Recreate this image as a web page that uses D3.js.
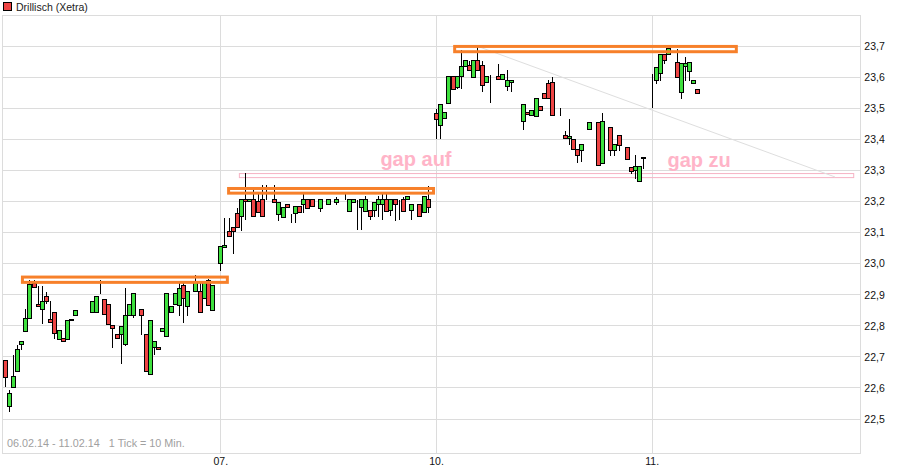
<!DOCTYPE html>
<html><head><meta charset="utf-8">
<script src="https://cdn.jsdelivr.net/npm/d3@7"></script>
<style>
html,body{margin:0;padding:0;background:#fff;}
svg{display:block;font-family:"Liberation Sans",Arial,sans-serif;}
</style></head>
<body>
<svg id="c" width="912" height="468"></svg>
<script>
// ---- data: [open, high, low, close] per 10-minute tick, null = no trade ----
const day1 = [
[22.685,22.685,22.601,22.633],[22.538,22.591,22.521,22.582],[22.601,22.703,22.601,22.634],[22.652,22.736,22.652,22.722],
[22.739,22.748,22.720,22.748],[22.779,22.852,22.779,22.823],[22.823,22.944,22.823,22.931],[22.934,22.944,22.921,22.921],
[22.868,22.926,22.859,22.859],[22.852,22.926,22.804,22.876],[22.893,22.906,22.868,22.875],[22.817,22.878,22.809,22.809],
[22.841,22.841,22.757,22.773],[22.754,22.782,22.754,22.782],[22.757,22.757,22.748,22.748],[22.754,22.814,22.754,22.814],
[22.814,22.817,22.814,22.817],[22.830,22.849,22.830,22.849],[22.814,22.814,22.814,22.814],[22.849,22.849,22.849,22.849],
[22.849,22.849,22.849,22.849],[22.842,22.876,22.842,22.876],[22.842,22.893,22.842,22.893],[22.902,22.944,22.902,22.902],
[22.883,22.883,22.833,22.833],[22.868,22.868,22.804,22.804],[22.798,22.798,22.727,22.789],[22.770,22.770,22.757,22.757],
[22.770,22.797,22.674,22.797],[22.738,22.921,22.734,22.830],[22.830,22.868,22.830,22.868],[22.830,22.902,22.822,22.902],
[22.887,22.887,22.887,22.887],[22.852,22.852,22.770,22.830],[22.770,22.770,22.652,22.652],[22.643,22.814,22.643,22.814],
[22.728,22.747,22.703,22.747],[22.728,22.728,22.722,22.722],[22.779,22.789,22.779,22.789],[22.763,22.902,22.763,22.902],
[22.840,22.859,22.840,22.859],[22.868,22.902,22.868,22.902],[22.865,22.938,22.830,22.919],[22.927,22.938,22.808,22.887],
[22.859,22.908,22.830,22.908],[22.908,22.908,22.908,22.908],[22.910,22.963,22.910,22.938],[22.910,22.938,22.840,22.842],
[22.887,22.938,22.887,22.938],[22.944,22.950,22.865,22.865],[22.849,22.927,22.849,22.927],[22.912,22.912,22.912,22.912]
];
const day2 = [
[22.998,23.052,22.974,23.052],[23.051,23.144,23.051,23.057],[23.103,23.144,23.086,23.086],[23.115,23.115,23.030,23.103],
[23.159,23.178,23.115,23.115],[23.151,23.203,23.104,23.203],[23.203,23.289,23.138,23.197],[23.197,23.203,23.197,23.203],
[23.203,23.246,23.151,23.151],[23.197,23.224,23.162,23.162],[23.203,23.251,23.151,23.151],[23.203,23.251,23.203,23.203],
null,[23.203,23.251,23.196,23.196],[23.157,23.196,23.136,23.196],[23.146,23.178,23.146,23.178],
[23.187,23.187,23.180,23.180],[23.157,23.157,23.129,23.157],[23.160,23.181,23.129,23.181],[23.181,23.181,23.162,23.162],
[23.187,23.230,23.160,23.203],[23.203,23.203,23.177,23.177],[23.203,23.203,23.181,23.181],[23.203,23.203,23.203,23.203],
[23.177,23.203,23.164,23.203],[23.203,23.203,23.203,23.203],[23.187,23.203,23.187,23.203],[23.203,23.203,23.203,23.203],
[23.196,23.213,23.187,23.203],[23.190,23.190,23.190,23.190],[23.203,23.224,23.203,23.203],[23.165,23.203,23.165,23.203],
[23.196,23.203,23.196,23.203],[23.203,23.203,23.106,23.203],[23.179,23.203,23.106,23.203],[23.165,23.216,23.165,23.203],
[23.170,23.170,23.138,23.151],[23.168,23.196,23.149,23.196],[23.190,23.216,23.149,23.203],[23.190,23.230,23.140,23.203],
[23.203,23.230,23.165,23.165],[23.168,23.203,23.150,23.203],[23.203,23.203,23.136,23.187],[23.179,23.203,23.140,23.179],
[23.203,23.213,23.165,23.165],[23.203,23.214,23.203,23.214],[23.168,23.187,23.140,23.187],[23.190,23.190,23.190,23.190],
[23.187,23.187,23.151,23.151],[23.164,23.214,23.164,23.214],[23.206,23.248,23.160,23.178],[23.190,23.190,23.190,23.190]
];
const day3 = [
[23.481,23.495,23.400,23.462],[23.443,23.511,23.400,23.511],[23.466,23.486,23.466,23.486],[23.515,23.599,23.515,23.599],
[23.599,23.599,23.560,23.560],[23.566,23.599,23.560,23.599],[23.599,23.686,23.560,23.634],[23.634,23.651,23.634,23.651],
[23.637,23.651,23.620,23.620],[23.596,23.651,23.596,23.651],[23.651,23.700,23.620,23.620],[23.637,23.651,23.550,23.571],
[23.580,23.599,23.580,23.599],[23.604,23.604,23.514,23.604],[23.604,23.604,23.604,23.604],[23.599,23.642,23.590,23.590],
[23.590,23.607,23.590,23.607],[23.568,23.620,23.555,23.588],[23.580,23.586,23.550,23.586],null,
null,[23.457,23.511,23.429,23.511],[23.486,23.486,23.479,23.479],[23.476,23.492,23.476,23.492],
[23.473,23.531,23.473,23.531],[23.503,23.503,23.492,23.492],[23.547,23.547,23.530,23.530],[23.579,23.588,23.530,23.530],
[23.580,23.600,23.476,23.476],[23.500,23.500,23.500,23.500],[23.473,23.500,23.473,23.473],[23.410,23.424,23.400,23.400],
[23.400,23.462,23.380,23.407],[23.397,23.397,23.364,23.364],[23.364,23.364,23.321,23.346],[23.361,23.381,23.326,23.381],
[23.399,23.399,23.399,23.399],[23.430,23.453,23.430,23.453],[23.453,23.453,23.453,23.453],[23.453,23.453,23.315,23.315],
[23.321,23.484,23.321,23.457],[23.465,23.465,23.465,23.465],[23.435,23.435,23.346,23.361],[23.361,23.381,23.346,23.381],
[23.410,23.410,23.361,23.377],null,[23.372,23.372,23.332,23.332],[23.307,23.307,23.288,23.296],
[23.299,23.348,23.272,23.312],[23.261,23.312,23.261,23.312],[23.341,23.341,23.304,23.335],[23.301,23.301,23.301,23.301]
];
const day4 = [
[23.500,23.609,23.500,23.500],[23.589,23.630,23.576,23.630],[23.609,23.672,23.585,23.672],[23.672,23.672,23.641,23.652],
[23.672,23.690,23.672,23.690],[23.609,23.609,23.609,23.609],[23.645,23.690,23.598,23.598],[23.549,23.641,23.529,23.641],
[23.633,23.663,23.587,23.641],[23.615,23.645,23.585,23.645],[23.579,23.589,23.579,23.589],[23.559,23.559,23.547,23.547]
];
const ticksPerDay = 52;
const dayLabels = ["07.", "10.", "11."];           // x-axis labels at day starts 1..3
const yTicks = [22.5,22.6,22.7,22.8,22.9,23.0,23.1,23.2,23.3,23.4,23.5,23.6,23.7];
const seriesName = "Drillisch (Xetra)";
const rangeText = "06.02.14 - 11.02.14   1 Tick = 10 Min.";
// annotations: [startTick, endTick, upper, lower]
const resistBoxes = [[4.3, 53.7, 22.955, 22.938], [54.0, 103.4, 23.240, 23.225], [108.5, 176.4, 23.697, 23.680]];
const gapBox = [56.6, 204.7, 23.288, 23.275];
const trendLine = [[113.9, 23.698], [200.2, 23.277]];
const notes = [["gap auf", 90.6, 23.287], ["gap zu", 159.8, 23.284]];

// ---- drawing ----
const svg = d3.select("#c");
const pLeft = 2, pRight = 860.3, pTop = 15, pBottom = 453.3;
const x = d3.scaleLinear().domain([0, 156]).range([4.6, 651.7]);
const y = d3.scaleLinear().domain([22.5, 23.7]).range([418.5, 45.5]);

const candles = [];
[day1, day2, day3, day4].forEach((d, di) => d.forEach((r, k) => {
  if (r) candles.push({i: di * ticksPerDay + k, o: r[0], h: r[1], l: r[2], c: r[3]});
}));

// grid
const g = svg.append("g").attr("shape-rendering", "crispEdges");
g.selectAll("line.h").data(yTicks).join("line")
  .attr("x1", pLeft).attr("x2", pRight)
  .attr("y1", d => Math.round(y(d)) + 0.5).attr("y2", d => Math.round(y(d)) + 0.5)
  .attr("stroke", "#dcdcdc");
g.selectAll("line.v").data(dayLabels).join("line")
  .attr("x1", (d, j) => Math.round(x((j + 1) * ticksPerDay)) + 0.5)
  .attr("x2", (d, j) => Math.round(x((j + 1) * ticksPerDay)) + 0.5)
  .attr("y1", pTop).attr("y2", pBottom).attr("stroke", "#dcdcdc");
g.append("rect").attr("x", pLeft + 0.5).attr("y", pTop + 0.5)
  .attr("width", pRight - pLeft).attr("height", pBottom - pTop)
  .attr("fill", "none").attr("stroke", "#dcdcdc");

// y axis labels
const yAxis = d3.axisRight(y).tickValues(yTicks).tickSize(0).tickPadding(4)
  .tickFormat(d => d.toFixed(1).replace(".", ","));
const ya = svg.append("g").attr("transform", `translate(${pRight},0.5)`).call(yAxis);
ya.select(".domain").remove();
ya.selectAll("text").attr("font-size", "10.5px").attr("fill", "#111")
  .attr("font-family", "'Liberation Sans',Arial,sans-serif");

// x axis labels
const xAxis = d3.axisBottom(x).tickValues(dayLabels.map((d, j) => (j + 1) * ticksPerDay))
  .tickFormat((d, j) => dayLabels[j]).tickSize(0).tickPadding(4);
const xa = svg.append("g").attr("transform", `translate(0,${pBottom})`).call(xAxis);
xa.select(".domain").remove();
xa.selectAll("text").attr("font-size", "10.5px").attr("fill", "#111")
  .attr("font-family", "'Liberation Sans',Arial,sans-serif");

// range text
svg.append("text").attr("x", 7).attr("y", 446.5).attr("font-size", "10.8px")
  .attr("fill", "#a0a0a0").style("white-space", "pre").text(rangeText);

// legend
svg.append("rect").attr("x", 3.5).attr("y", 2.5).attr("width", 8).attr("height", 8)
  .attr("fill", "#ee4444").attr("stroke", "#000").attr("shape-rendering", "crispEdges");
svg.append("text").attr("x", 16).attr("y", 10.5).attr("font-size", "10.5px")
  .attr("fill", "#222").text(seriesName);

// gap box
svg.append("rect").attr("x", x(gapBox[0])).attr("y", y(gapBox[2]))
  .attr("width", x(gapBox[1]) - x(gapBox[0])).attr("height", y(gapBox[3]) - y(gapBox[2]))
  .attr("fill", "none").attr("stroke", "#f6b3c4").attr("stroke-width", 1);

// trend line
svg.append("line")
  .attr("x1", x(trendLine[0][0])).attr("y1", y(trendLine[0][1]))
  .attr("x2", x(trendLine[1][0])).attr("y2", y(trendLine[1][1]))
  .attr("stroke", "#dedede").attr("stroke-width", 1);

// notes
svg.selectAll("text.note").data(notes).join("text").attr("class", "note")
  .attr("x", d => x(d[1])).attr("y", d => y(d[2]) - 8)
  .attr("font-size", "20px").attr("font-weight", "bold").attr("fill", "#ffb4c8")
  .text(d => d[0]);

// candles
const cg = svg.append("g").attr("shape-rendering", "crispEdges");
cg.selectAll("line.w").data(candles).join("line")
  .attr("x1", d => Math.round(x(d.i)) + 0.5).attr("x2", d => Math.round(x(d.i)) + 0.5)
  .attr("y1", d => y(d.h)).attr("y2", d => y(d.l))
  .attr("stroke", "#000");
cg.selectAll("rect.b").data(candles).join("rect")
  .attr("x", d => Math.round(x(d.i)) - 1.5)
  .attr("y", d => y(Math.max(d.o, d.c)))
  .attr("width", 4)
  .attr("height", d => Math.abs(y(d.o) - y(d.c)))
  .attr("fill", d => d.c >= d.o ? "#3ee03e" : "#ee4444")
  .attr("stroke", "#000");

// resistance boxes
svg.selectAll("rect.r").data(resistBoxes).join("rect")
  .attr("x", d => x(d[0])).attr("y", d => y(d[2]))
  .attr("width", d => x(d[1]) - x(d[0])).attr("height", d => y(d[3]) - y(d[2]))
  .attr("fill", "none").attr("stroke", "#f7802a").attr("stroke-width", 3);
</script>
</body></html>
